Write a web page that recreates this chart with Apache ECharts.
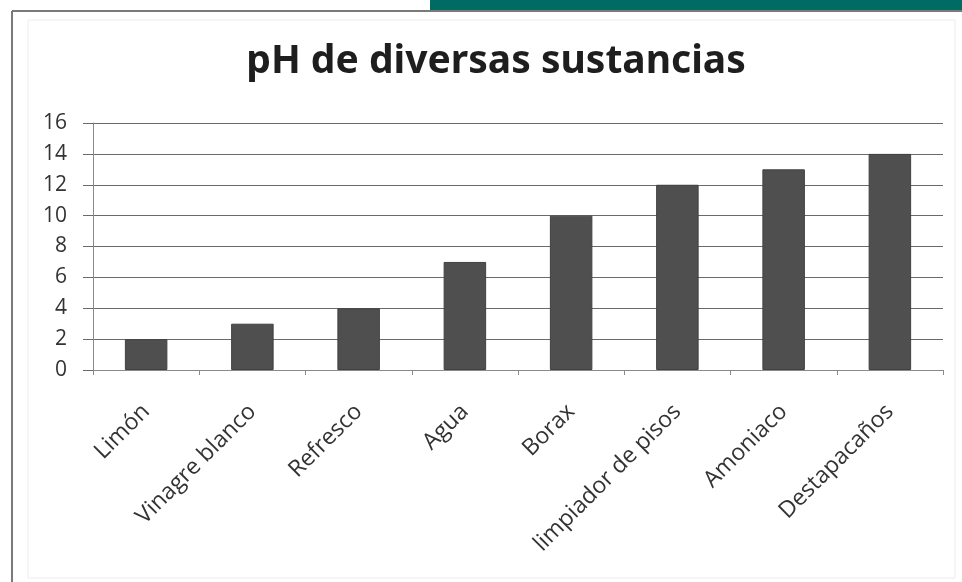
<!DOCTYPE html>
<html>
<head>
<meta charset="utf-8">
<script src="https://cdn.jsdelivr.net/npm/echarts@6/dist/echarts.min.js"></script>
<style>
  html, body { margin: 0; padding: 0; background: #ffffff; }
  #chart { width: 962px; height: 582px; }
</style>
</head>
<body>
<div id="chart"></div>
<script>
// Substances and their pH values
const categories = ['Limón', 'Vinagre blanco', 'Refresco', 'Agua', 'Borax', 'limpiador de pisos', 'Amoniaco', 'Destapacaños'];
const phValues = [2, 3, 4, 7, 10, 12, 13, 14];
const yTicks = [0, 2, 4, 6, 8, 10, 12, 14, 16];

const chart = echarts.init(document.getElementById('chart'));

chart.setOption({
  backgroundColor: '#ffffff',
  animation: false,
  title: {
    text: 'pH de diversas sustancias',
    left: 491,
    top: 37,
    textAlign: 'center',
    textStyle: {
      fontFamily: 'Noto Sans',
      fontWeight: 'bold',
      fontSize: 39,
      color: '#1e1e1e'
    }
  },
  graphic: [
    // teal band across the top right
    { type: 'rect', shape: { x: 430, y: 0, width: 532, height: 10 }, style: { fill: '#006b62' }, z: 10 },
    // outer frame lines
    { type: 'line', shape: { x1: 12, y1: 11, x2: 962, y2: 11 }, style: { stroke: '#7a7a7a', lineWidth: 2 }, z: 10 },
    { type: 'line', shape: { x1: 12, y1: 11, x2: 12, y2: 582 }, style: { stroke: '#7a7a7a', lineWidth: 2 }, z: 10 },
    // faint inner chart border
    { type: 'rect', shape: { x: 28, y: 20, width: 927, height: 558 }, style: { fill: 'none', stroke: '#ececec', lineWidth: 1 }, z: 0 }
  ],
  grid: { left: 93, right: 19, top: 123, bottom: 212 },
  xAxis: {
    type: 'category',
    data: categories,
    axisLine: { lineStyle: { color: '#8a8a8a', width: 1 } },
    axisTick: { show: true, length: 5, lineStyle: { color: '#8a8a8a' } },
    axisLabel: {
      rotate: 45,
      interval: 0,
      margin: 38,
      fontFamily: 'Open Sans',
      fontSize: 23,
      color: '#333333'
    }
  },
  yAxis: {
    type: 'value',
    min: 0,
    max: 16,
    interval: 2,
    axisLine: { show: true, lineStyle: { color: '#8a8a8a', width: 1 } },
    axisTick: { show: true, length: 10, lineStyle: { color: '#6a6a6a' } },
    axisLabel: {
      margin: 26,
      fontFamily: 'Open Sans',
      fontSize: 21,
      color: '#333333',
      formatter: v => yTicks.includes(v) ? String(v) : ''
    },
    splitLine: { show: true, lineStyle: { color: '#6a6a6a', width: 1 } }
  },
  series: [{
    type: 'bar',
    data: phValues,
    barCategoryGap: '60%',
    itemStyle: { color: '#4f4f4f', borderColor: '#404040', borderWidth: 1 }
  }]
});
</script>
</body>
</html>
